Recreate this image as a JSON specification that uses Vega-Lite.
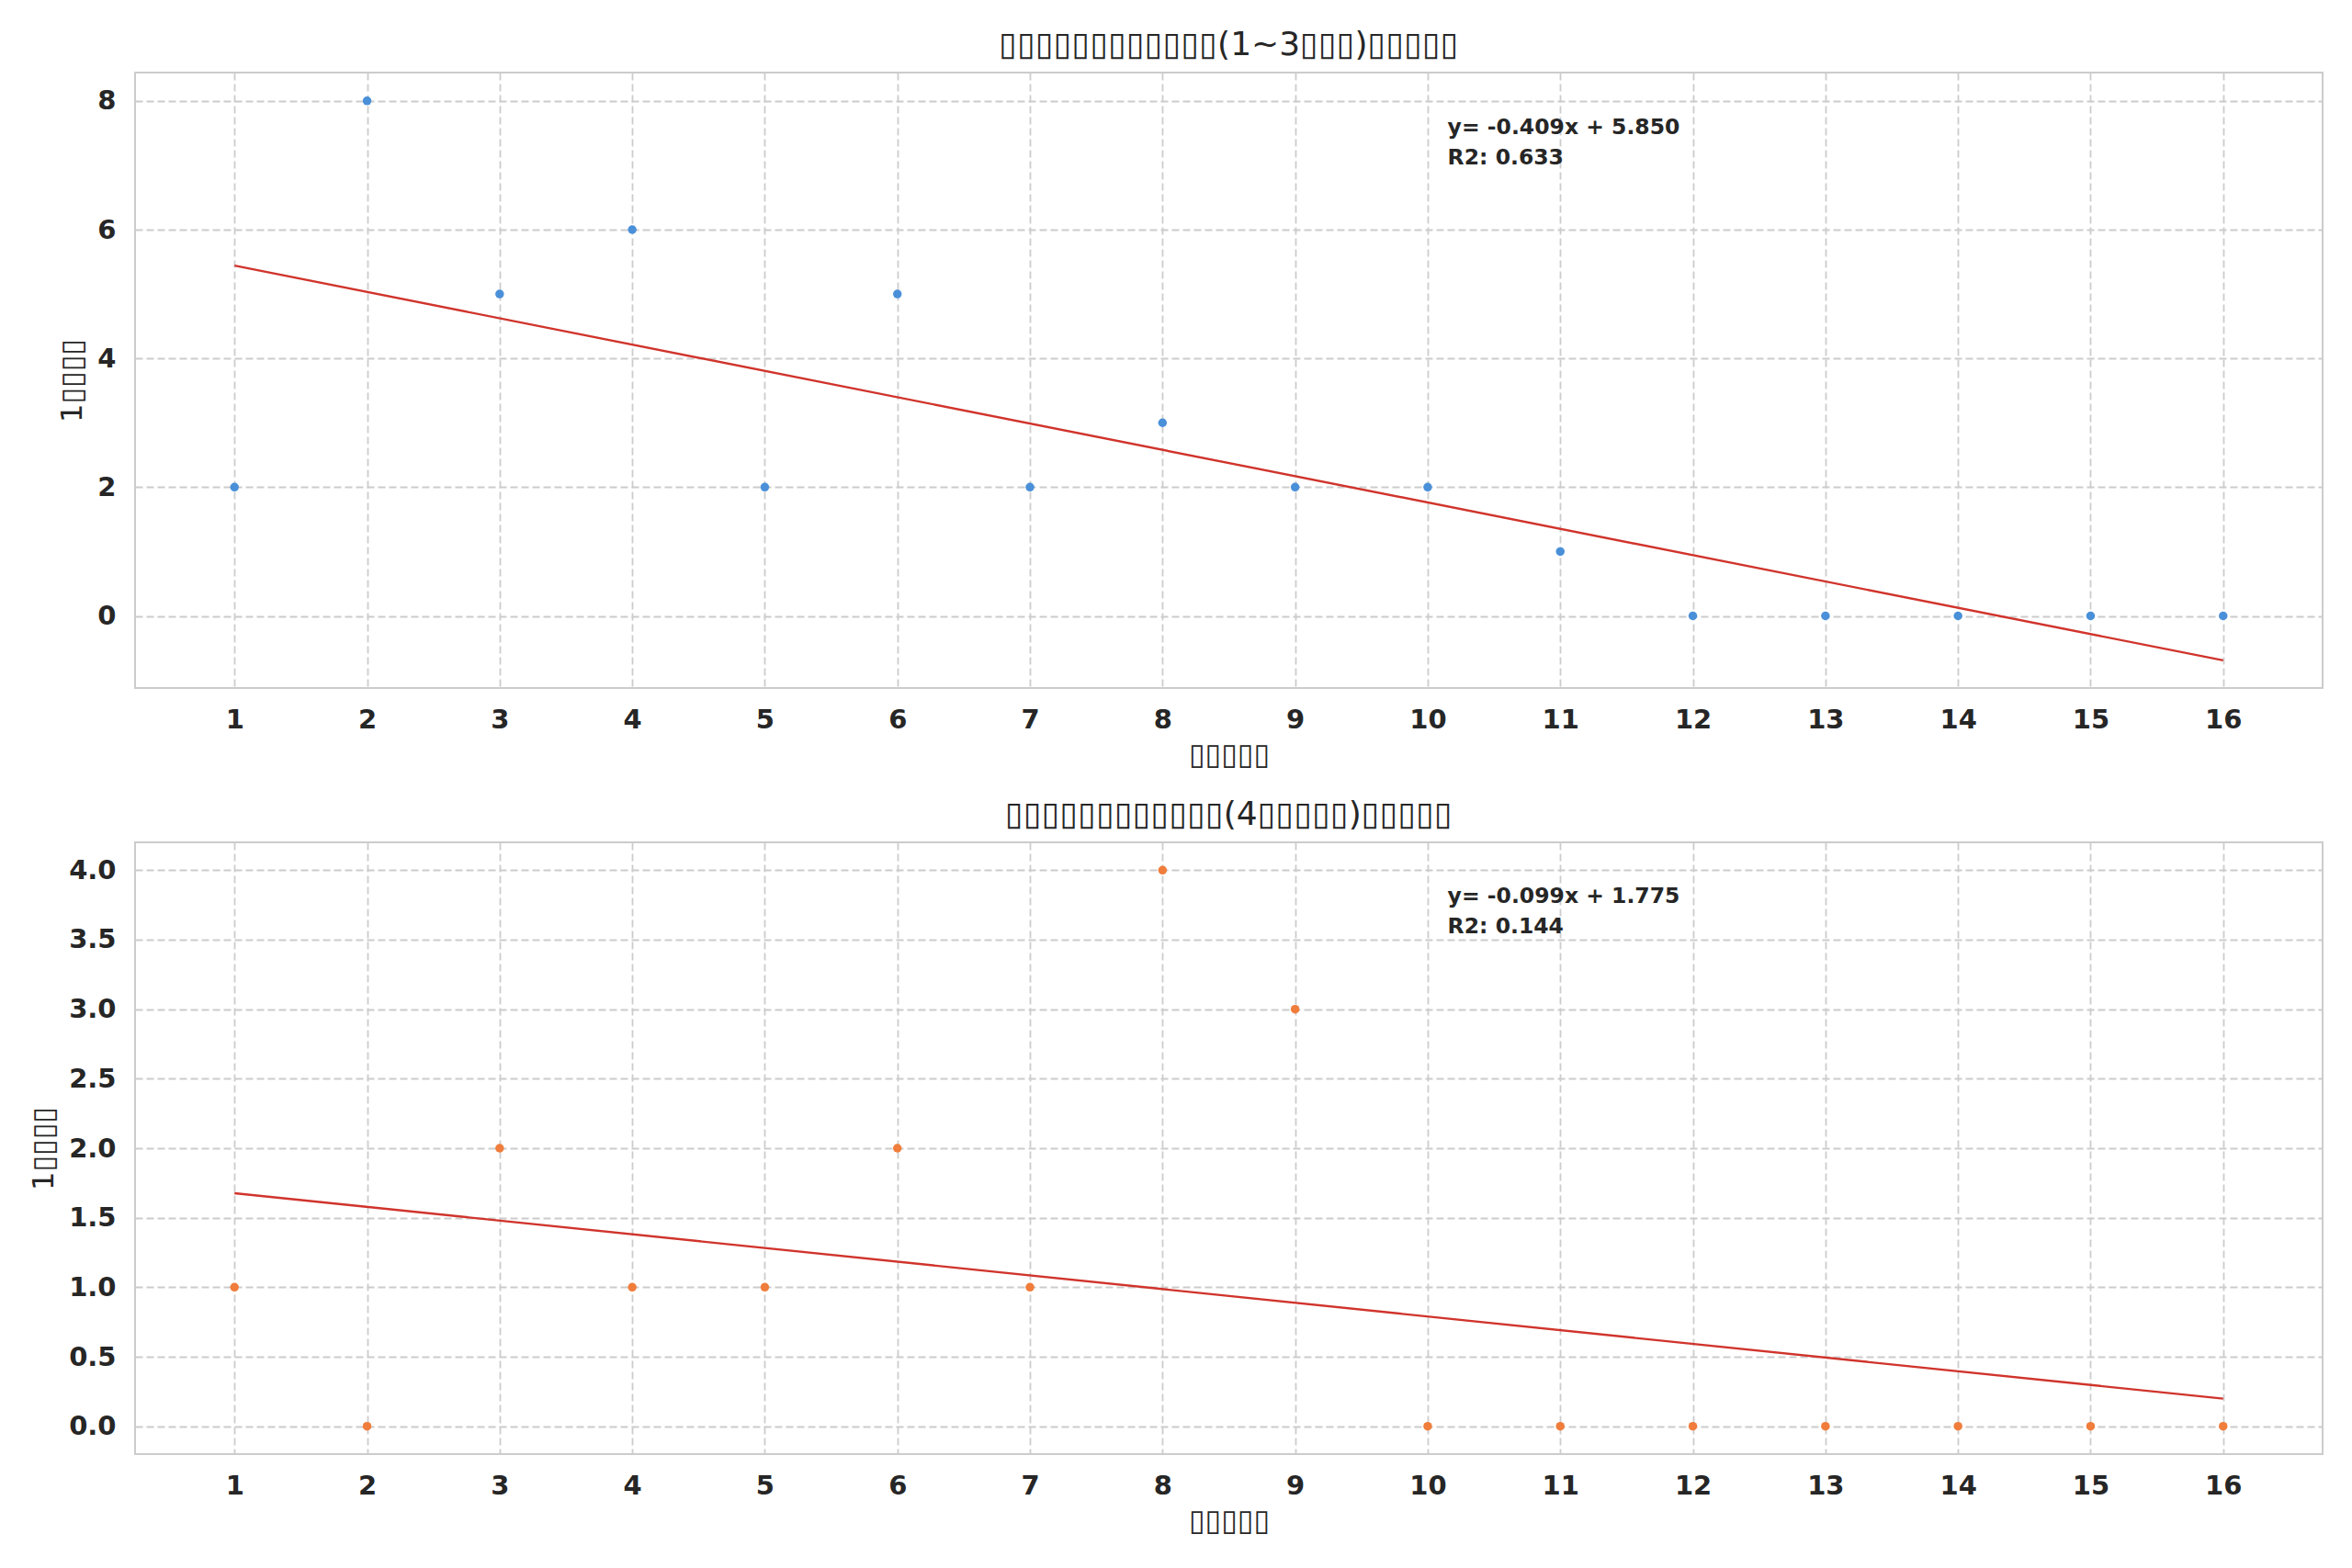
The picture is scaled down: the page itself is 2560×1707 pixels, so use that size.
{
  "$schema": "https://vega.github.io/schema/vega-lite/v6.json",
  "background": "white",
  "padding": {"left": 30, "top": 30, "right": 30, "bottom": 20},
  "spacing": 30,
  "config": {
    "font": "DejaVu Sans",
    "view": {"stroke": "#cccccc", "strokeWidth": 2},
    "axis": {
      "domain": false,
      "ticks": false,
      "grid": true,
      "gridColor": "#cccccc",
      "gridDash": [8, 4],
      "gridWidth": 1.8,
      "labelFont": "DejaVu Sans",
      "labelFontWeight": "bold",
      "labelFontSize": 29,
      "labelColor": "#262626",
      "titleFont": "DejaVu Sans",
      "titleFontWeight": "normal",
      "titleFontSize": 32,
      "titleColor": "#262626"
    },
    "title": {"font": "DejaVu Sans", "fontSize": 36, "fontWeight": "normal", "color": "#262626", "offset": 11}
  },
  "datasets": {
    "top": [
      {"x": 1, "v": 2}, {"x": 2, "v": 8}, {"x": 3, "v": 5}, {"x": 4, "v": 6},
      {"x": 5, "v": 2}, {"x": 6, "v": 5}, {"x": 7, "v": 2}, {"x": 8, "v": 3},
      {"x": 9, "v": 2}, {"x": 10, "v": 2}, {"x": 11, "v": 1}, {"x": 12, "v": 0},
      {"x": 13, "v": 0}, {"x": 14, "v": 0}, {"x": 15, "v": 0}, {"x": 16, "v": 0}
    ],
    "bottom": [
      {"x": 1, "v": 1}, {"x": 2, "v": 0}, {"x": 3, "v": 2}, {"x": 4, "v": 1},
      {"x": 5, "v": 1}, {"x": 6, "v": 2}, {"x": 7, "v": 1}, {"x": 8, "v": 4},
      {"x": 9, "v": 3}, {"x": 10, "v": 0}, {"x": 11, "v": 0}, {"x": 12, "v": 0},
      {"x": 13, "v": 0}, {"x": 14, "v": 0}, {"x": 15, "v": 0}, {"x": 16, "v": 0}
    ],
    "noteTop": [{"label": "y= -0.409x + 5.850\nR2: 0.633"}],
    "noteBottom": [{"label": "y= -0.099x + 1.775\nR2: 0.144"}]
  },
  "vconcat": [
    {
      "width": 2381,
      "height": 670,
      "title": "▯▯▯▯▯▯▯▯▯▯▯▯(1~3▯▯▯)▯▯▯▯▯",
      "layer": [
        {
          "data": {"name": "top"},
          "mark": {"type": "circle", "size": 90, "color": "#4a90d9", "opacity": 1},
          "encoding": {
            "x": {"field": "x", "type": "quantitative", "scale": {"domain": [0.25, 16.75], "nice": false, "zero": false},
                  "axis": {"values": [1,2,3,4,5,6,7,8,9,10,11,12,13,14,15,16], "format": "d", "title": "▯▯▯▯▯", "labelPadding": 20, "titlePadding": 8}},
            "y": {"field": "v", "type": "quantitative", "scale": {"domain": [-1.12, 8.44], "nice": false, "zero": false},
                  "axis": {"values": [0, 2, 4, 6, 8], "format": "d", "title": "1▯▯▯▯", "labelPadding": 21, "titlePadding": 10}}
          }
        },
        {
          "data": {"name": "top"},
          "transform": [{"regression": "v", "on": "x", "extent": [1, 16]}],
          "mark": {"type": "line", "color": "#d0342c", "strokeWidth": 2.4},
          "encoding": {
            "x": {"field": "x", "type": "quantitative"},
            "y": {"field": "v", "type": "quantitative"}
          }
        },
        {
          "data": {"name": "noteTop"},
          "mark": {"type": "text", "align": "left", "baseline": "top", "fontSize": 23.5, "fontWeight": "bold", "color": "#262626", "lineHeight": 33, "lineBreak": "\n"},
          "encoding": {
            "x": {"datum": 10.15, "type": "quantitative"},
            "y": {"datum": 7.76, "type": "quantitative"},
            "text": {"field": "label"}
          }
        }
      ]
    },
    {
      "width": 2381,
      "height": 666,
      "title": "▯▯▯▯▯▯▯▯▯▯▯▯(4▯▯▯▯▯)▯▯▯▯▯",
      "layer": [
        {
          "data": {"name": "bottom"},
          "mark": {"type": "circle", "size": 90, "color": "#f07d3c", "opacity": 1},
          "encoding": {
            "x": {"field": "x", "type": "quantitative", "scale": {"domain": [0.25, 16.75], "nice": false, "zero": false},
                  "axis": {"values": [1,2,3,4,5,6,7,8,9,10,11,12,13,14,15,16], "format": "d", "title": "▯▯▯▯▯", "labelPadding": 20, "titlePadding": 8}},
            "y": {"field": "v", "type": "quantitative", "scale": {"domain": [-0.2, 4.2], "nice": false, "zero": false},
                  "axis": {"values": [0, 0.5, 1, 1.5, 2, 2.5, 3, 3.5, 4], "format": ".1f", "title": "1▯▯▯▯", "labelPadding": 21, "titlePadding": 10}}
          }
        },
        {
          "data": {"name": "bottom"},
          "transform": [{"regression": "v", "on": "x", "extent": [1, 16]}],
          "mark": {"type": "line", "color": "#d0342c", "strokeWidth": 2.4},
          "encoding": {
            "x": {"field": "x", "type": "quantitative"},
            "y": {"field": "v", "type": "quantitative"}
          }
        },
        {
          "data": {"name": "noteBottom"},
          "mark": {"type": "text", "align": "left", "baseline": "top", "fontSize": 23.5, "fontWeight": "bold", "color": "#262626", "lineHeight": 33, "lineBreak": "\n"},
          "encoding": {
            "x": {"datum": 10.15, "type": "quantitative"},
            "y": {"datum": 3.89, "type": "quantitative"},
            "text": {"field": "label"}
          }
        }
      ]
    }
  ]
}
